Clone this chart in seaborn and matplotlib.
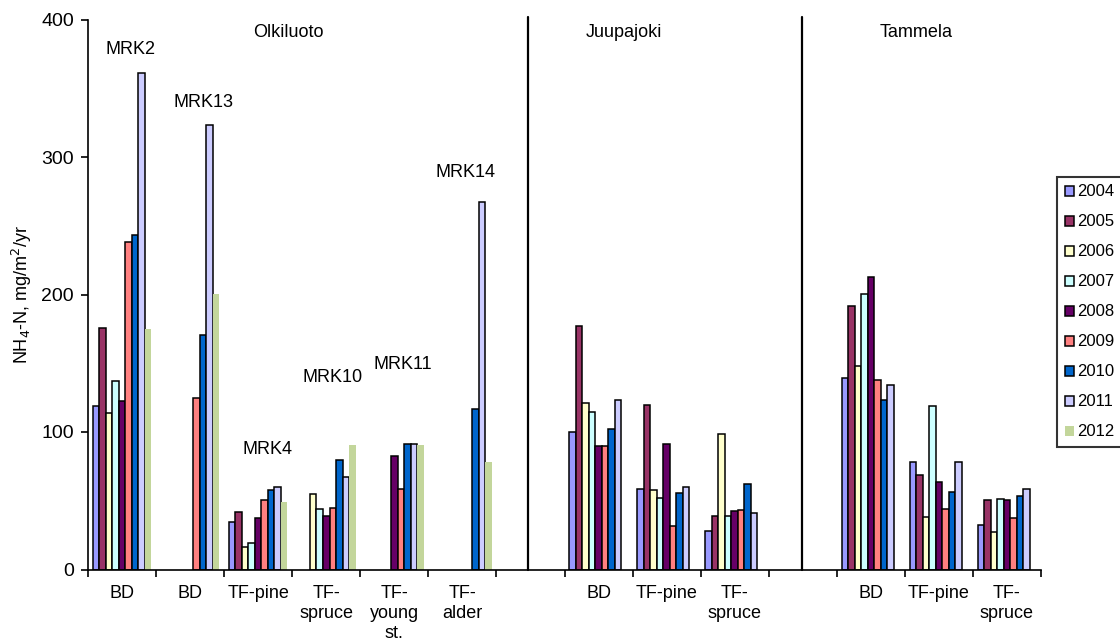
import numpy as np
import pandas as pd
import matplotlib
matplotlib.use("Agg")
import matplotlib.pyplot as plt
from matplotlib.patches import Patch
from matplotlib.colors import to_rgb
import seaborn as sns

# ---------------- data ----------------
cat_keys = ["O-BD-MRK2", "O-BD-MRK13", "O-TFpine", "O-TFspruce", "O-TFyoung", "O-TFalder",
            "gap1", "J-BD", "J-TFpine", "J-TFspruce", "gap2", "T-BD", "T-TFpine", "T-TFspruce"]
tick_labels = ["BD", "BD", "TF-pine", "TF-\nspruce", "TF-\nyoung\nst.", "TF-\nalder", "",
               "BD", "TF-pine", "TF-\nspruce", "", "BD", "TF-pine", "TF-\nspruce"]
years = ["2004", "2005", "2006", "2007", "2008", "2009", "2010", "2011", "2012"]

v2004 = [119, None, 34.5, None, None, None, None, 100, 58.8, 27.9, None, 139, 78.5, 32.5]
v2005 = [175.4, None, 42, None, None, None, None, 177.3, 120, 38.9, None, 191.6, 68.7, 50.8]
v2006 = [114, None, 16.3, 55, None, None, None, 121.2, 58, 98.6, None, 147.7, 38.4, 27.4]
v2007 = [137, None, 19.2, 44, None, None, None, 114.2, 51.7, 38.9, None, 200.4, 119, 51.5]
v2008 = [122.7, None, 37.2, 38.9, 82.8, None, None, 89.6, 91, 42.3, None, 213, 63.9, 50.8]
v2009 = [238, 124.6, 50.3, 44.7, 58.8, None, None, 89.6, 31.6, 43, None, 137.5, 44.2, 37.2]
v2010 = [243.6, 170.5, 57.6, 80, 91.6, 117, None, 102, 55.6, 62.2, None, 123.4, 56.6, 53.2]
v2011 = [361, 323, 60.2, 67.3, 91.6, 267.4, None, 123.4, 60, 41, None, 134.3, 78.5, 58.3]
v2012 = [175, 200.4, 49, 90.8, 90.8, 78, None, None, None, None, None, None, None, None]

series = [v2004, v2005, v2006, v2007, v2008, v2009, v2010, v2011, v2012]

colors = ["#9999FF", "#993366", "#FFFFCC", "#CCFFFF", "#660066",
          "#FF8080", "#0066CC", "#CCCCFF", "#C3D69B"]

site_names = ["Olkiluoto", "Juupajoki", "Tammela"]
site_label_pos = [(2.44, 390.5), (7.37, 390.5), (11.67, 390.5)]
plot_names = ["MRK2", "MRK13", "MRK4", "MRK10", "MRK11", "MRK14"]
plot_label_pos = [(0.13, 378.4), (1.19, 339.6), (2.13, 87.4), (3.10, 139.5), (4.13, 148.8), (5.05, 288.7)]
divider_x = [5.96, 9.985]

# ---------------- build long table ----------------
rows = []
for yr, vals in zip(years, series):
    for key, v in zip(cat_keys, vals):
        if v is not None:
            rows.append({"site": key, "year": yr, "value": v})
df = pd.DataFrame(rows)

sns.set_style("white")
plt.rcParams["font.family"] = ["Liberation Sans", "DejaVu Sans"]
plt.rcParams.update({"text.color": "black", "axes.labelcolor": "black",
                     "xtick.color": "black", "ytick.color": "black"})
FS = 13

fig = plt.figure(figsize=(11.2, 6.41), dpi=100)
ax = fig.add_axes([88 / 1120, 1 - 569.5 / 641, 953 / 1120, 550 / 641])

sns.barplot(data=df, x="site", y="value", hue="year", order=cat_keys, hue_order=years,
            palette=dict(zip(years, colors)), saturation=1, width=0.86,
            edgecolor="black", linewidth=1.1, errorbar=None, legend=False, ax=ax)

green = to_rgb(colors[-1])
for p in ax.patches:
    if np.allclose(p.get_facecolor()[:3], green, atol=0.01):
        p.set_edgecolor("none")

ax.set_xlim(-0.5, 13.5)
ax.set_ylim(0, 400)
ax.set_yticks([0, 100, 200, 300, 400])
ax.tick_params(axis="y", direction="out", length=5, width=1.2, labelsize=14, pad=5, left=True)
ax.set_xticks(np.arange(-0.5, 14, 1))
ax.set_xticklabels([])
ax.set_xticks(np.arange(14), minor=True)
ax.set_xticklabels(tick_labels, minor=True, fontsize=FS, linespacing=1.25)
ax.tick_params(axis="x", which="major", direction="out", length=5, width=1.2, bottom=True)
ax.tick_params(axis="x", which="minor", length=0, pad=11)
ax.set_xlabel("")
ax.set_ylabel("NH$_4$-N, mg/m$^2$/yr", fontsize=13, labelpad=5)

for s in ["top", "right"]:
    ax.spines[s].set_visible(False)
for s in ["left", "bottom"]:
    ax.spines[s].set_color("black")
    ax.spines[s].set_linewidth(1.2)

for xd in divider_x:
    ax.plot([xd, xd], [0, 401.7], color="black", lw=1.6, clip_on=False)

for name, (x, y) in zip(site_names, site_label_pos):
    ax.text(x, y, name, ha="center", va="center", fontsize=FS)
for name, (x, y) in zip(plot_names, plot_label_pos):
    ax.text(x, y, name, ha="center", va="center", fontsize=FS)

handles = [Patch(facecolor=c, edgecolor=("none" if i == len(colors) - 1 else "black"), linewidth=1.1)
           for i, c in enumerate(colors)]
leg = fig.legend(handles, years, loc="upper left", bbox_to_anchor=(1057 / 1120, 1 - 177 / 641),
                 frameon=True, fancybox=False, shadow=False, fontsize=12,
                 handlelength=0.55, handleheight=0.55, handletextpad=0.2,
                 labelspacing=0.9, borderpad=0.45, borderaxespad=0)
leg.get_frame().set_edgecolor("black")
leg.get_frame().set_linewidth(1.5)

fig.savefig("out.png", dpi=100, facecolor="white")
